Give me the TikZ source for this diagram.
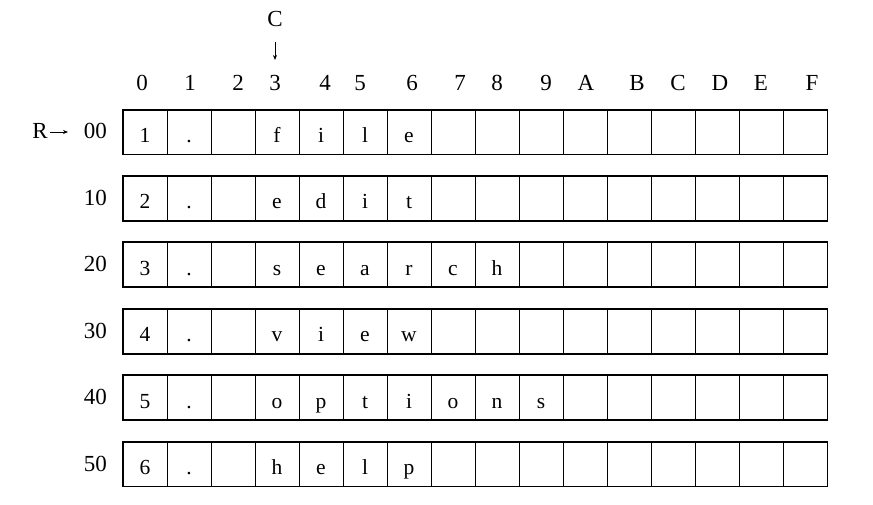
\documentclass[tikz,border=0pt]{standalone}
\usepackage{fontspec}
\setmainfont{Liberation Serif}
\usetikzlibrary{arrows.meta, positioning}

\begin{document}
\begin{tikzpicture}
                        [x=1pt, y=-1pt,
                         every node/.style={font=\fontsize{23}{27}\selectfont, inner sep=0pt},
                         cellbox/.style={draw, line width=0.9pt, minimum width=44pt, minimum height=44pt},
                         rowframe/.style={draw, line width=1.7pt},
                         glyph/.style={anchor=base},
                         entry/.style={anchor=base, font=\fontsize{21.5}{25}\selectfont},
                         pointer/.style={draw, line width=0.7pt, -{Stealth[length=5pt, width=4pt]}}]

                        \useasboundingbox (0,0) rectangle (873,505);

                        % column headings
                        \foreach \xpos/\lab [count=\i from 0] in {142/0,190/1,238/2,275/3,325/4,360/5,412/6,460/7,
                                                     497/8,546/9,586/A,637/B,678/C,720/D,761/E,812/F}
                            \node[glyph] (col-\i) at (\xpos,91) {\lab};

                        % column pointer
                        \node[glyph] (C) at (275,27) {C};
                        \coordinate (Ctip) at (275,60);
                        \draw[pointer] (275,42) -- (Ctip);

                        % rows of cells
                        \foreach \r/\lab in {0/00,1/10,2/20,3/30,4/40,5/50} {
                            \node[glyph, anchor=base east] (row-\r) at (107,{139+66.4*\r}) {\lab};
                            \foreach \c in {0,...,15}
                                \node[cellbox] (cell-\r-\c) at ({145+44*\c},{132+66.4*\r}) {};
                            \draw[rowframe] (cell-\r-0.north west) rectangle (cell-\r-15.south east);
                        }

                        % row pointer
                        \node[glyph] (R) at (40,139) {R};
                        \coordinate (Rtip) at (68,132);
                        \draw[pointer] (R.east |- Rtip) ++(2,0) -- (Rtip);

                        % cell contents
                        \foreach \r/\word in {0/{1,.,{},f,i,l,e},
                                              1/{2,.,{},e,d,i,t},
                                              2/{3,.,{},s,e,a,r,c,h},
                                              3/{4,.,{},v,i,e,w},
                                              4/{5,.,{},o,p,t,i,o,n,s},
                                              5/{6,.,{},h,e,l,p}}
                            \foreach \ch [count=\c from 0] in \word
                                \node[entry] (txt-\r-\c) at ([yshift=-10.5pt]cell-\r-\c.center) {\ch};
\end{tikzpicture}
\end{document}
